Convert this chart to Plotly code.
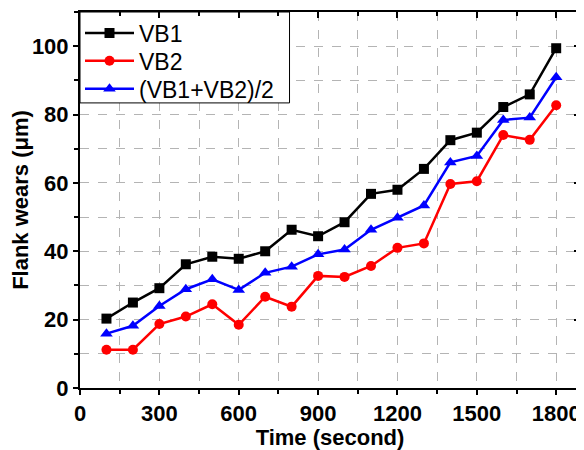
import plotly.graph_objects as go

time_s = [100, 200, 300, 400, 500, 600, 700, 800, 900, 1000, 1100, 1200, 1300, 1400, 1500, 1600, 1700, 1800]
vb1 = [20.3, 25.0, 29.2, 36.2, 38.4, 37.8, 40.0, 46.3, 44.4, 48.5, 56.8, 58.0, 64.1, 72.5, 74.7, 82.2, 85.9, 99.4]
vb2 = [11.2, 11.2, 18.7, 20.9, 24.5, 18.5, 26.7, 23.8, 32.8, 32.5, 35.7, 41.0, 42.3, 59.7, 60.5, 74.0, 72.6, 82.7]
vb_avg = [15.9, 18.2, 24.0, 28.9, 31.8, 28.7, 33.7, 35.5, 39.1, 40.5, 46.3, 49.8, 53.4, 66.0, 67.9, 78.4, 79.1, 90.9]
series_names = ["VB1", "VB2", "(VB1+VB2)/2"]
x_ticks = [0, 300, 600, 900, 1200, 1500, 1800]
y_ticks = [0, 20, 40, 60, 80, 100]

FONT = "Liberation Sans, Arial, sans-serif"

fig = go.Figure()
styles = [
    (vb1, "black", "square", 10, "legend"),
    (vb2, "#ff0000", "circle", 10, "legend2"),
    (vb_avg, "#0000ff", "triangle-up", 11, "legend3"),
]
for (vals, col, sym, ms, lg), name in zip(styles, series_names):
    fig.add_trace(go.Scatter(
        x=time_s, y=vals, name=name, mode="lines+markers",
        line=dict(color=col, width=2.5),
        marker=dict(symbol=sym, size=ms, color=col),
        legend=lg,
    ))

# dummy trace to activate top/right mirror axes
fig.add_trace(go.Scatter(x=[None], y=[None], xaxis="x2", yaxis="y2",
                         showlegend=False, hoverinfo="skip"))

XR = [0, 1890]
YR = [0, 110]
tickfont = dict(family=FONT, size=22, color="black", weight="bold")
minor_common = dict(ticklen=4, tickcolor="black", tickwidth=1.5,
                    showgrid=True, gridcolor="#b4b4b4", griddash="dash", gridwidth=1.2)

legfont = dict(family=FONT, size=23, color="black")


def leg(yc):
    return dict(x=0, y=yc, xanchor="left", yanchor="middle",
                bgcolor="rgba(0,0,0,0)", borderwidth=0,
                font=legfont, itemwidth=49)


# page body has an 8px default margin: figure is sized/offset to compensate
fig.update_layout(
    width=576, height=442,
    margin=dict(l=68, r=2, t=3, b=62),
    plot_bgcolor="white", paper_bgcolor="white",
    showlegend=True,
    legend=leg(0.944),
    legend2=leg(0.870),
    legend3=leg(0.796),
    shapes=[dict(type="rect", xref="x", yref="y", x0=0, x1=792, y0=83.4, y1=110,
                 line=dict(color="black", width=1), fillcolor="white", layer="between")],
    xaxis=dict(range=XR, tickvals=x_ticks, ticks="outside", ticklen=5, tickwidth=1.5,
               tickcolor="black", showgrid=False, zeroline=False,
               showline=True, linecolor="black", linewidth=2, mirror=True,
               tickfont=tickfont,
               minor=dict(dtick=150, tick0=0, ticks="outside", **minor_common),
               title=dict(text="Time (second)", standoff=4,
                          font=dict(family=FONT, size=22, color="black", weight="bold"))),
    yaxis=dict(range=YR, tickvals=y_ticks, ticks="outside", ticklen=5, tickwidth=1.5,
               tickcolor="black", showgrid=False, zeroline=False,
               showline=True, linecolor="black", linewidth=2, mirror=True,
               tickfont=tickfont,
               minor=dict(dtick=10, tick0=0, ticks="outside", **minor_common),
               title=dict(text="Flank wears (μm)", standoff=6,
                          font=dict(family=FONT, size=22, color="black", weight="bold"))),
    xaxis2=dict(range=XR, overlaying="x", side="top", anchor="y", tickvals=x_ticks,
                ticks="inside", ticklen=6, tickwidth=1.5, tickcolor="black",
                showticklabels=False, showgrid=False, zeroline=False, showline=False,
                minor=dict(dtick=150, tick0=0, ticks="inside", ticklen=4,
                           tickcolor="black", tickwidth=1.5, showgrid=False)),
    yaxis2=dict(range=YR, overlaying="y", side="right", anchor="x", tickvals=y_ticks,
                ticks="inside", ticklen=6, tickwidth=1.5, tickcolor="black",
                showticklabels=False, showgrid=False, zeroline=False, showline=False,
                minor=dict(dtick=10, tick0=0, ticks="inside", ticklen=4,
                           tickcolor="black", tickwidth=1.5, showgrid=False)),
)

fig.write_html("out.html")
